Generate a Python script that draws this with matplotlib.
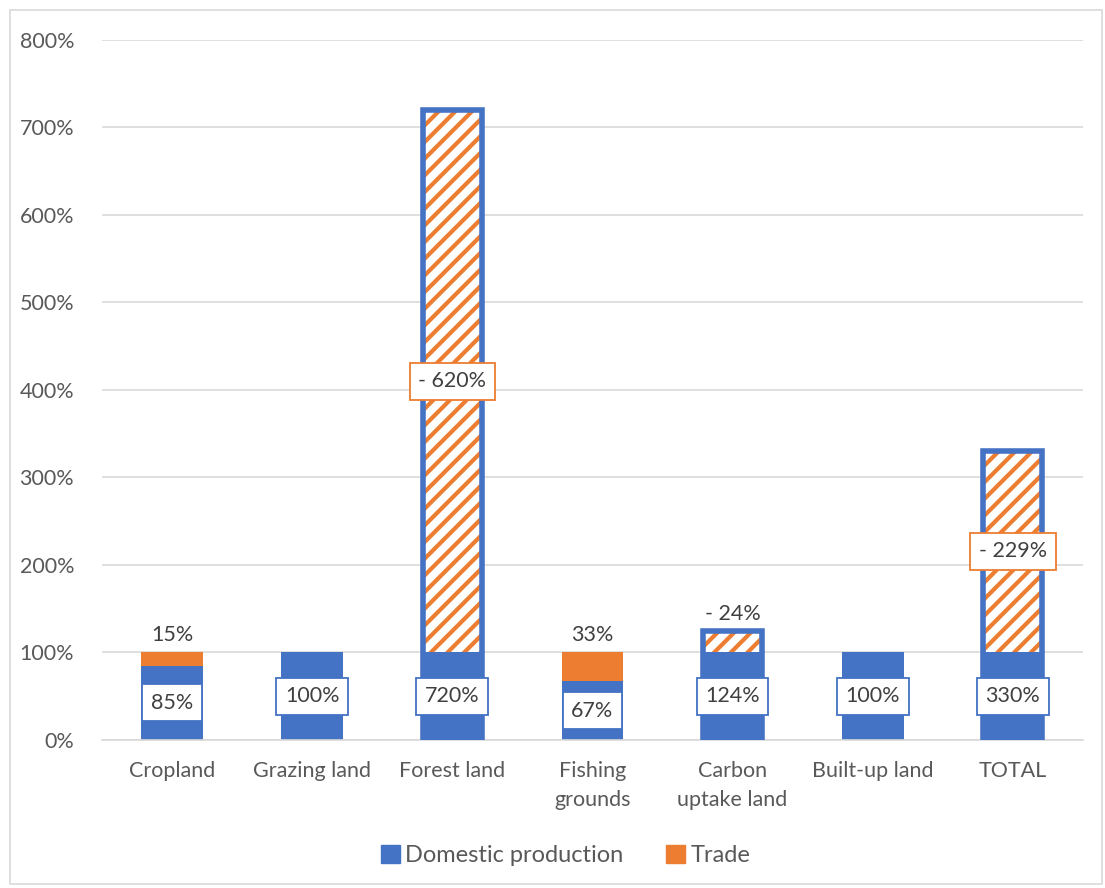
import matplotlib.pyplot as plt
from matplotlib.patches import Rectangle, Patch
import numpy as np

categories = ["Cropland", "Grazing land", "Forest land", "Fishing\ngrounds",
              "Carbon\nuptake land", "Built-up land", "TOTAL"]
domestic = [85, 100, 720, 67, 124, 100, 330]
trade = [15, 0, -620, 33, -24, 0, -229]

blue = "#4472C4"
orange = "#ED7D31"
txt = "#595959"
lab_c = "#404040"
fs = 15.5
plt.rcParams["font.family"] = ["Lato", "DejaVu Sans"]
plt.rcParams["hatch.linewidth"] = 3.0

fig = plt.figure(figsize=(11.05, 8.88), dpi=100)
ax = fig.add_axes([0.0923, 0.1667, 0.8877, 0.7883])
fig.patches.append(Rectangle((0.009, 0.005), 0.988, 0.984, transform=fig.transFigure,
                             fill=False, edgecolor="#d9d9d9", lw=1.2))

x = np.arange(len(categories))
w = 0.44

for i, (d, t) in enumerate(zip(domestic, trade)):
    ax.bar(x[i], d, w, color=blue, zorder=2)
    if t > 0:
        ax.bar(x[i], t, w, bottom=d, color=orange, zorder=2)
        ax.text(x[i], d + t + 8, f"{t}%", ha="center", va="bottom", fontsize=fs, color=lab_c)
    elif t < 0:
        lo = d + t
        ax.bar(x[i], -t, w - 0.04, bottom=lo, facecolor="white", edgecolor=orange, hatch="//",
               lw=0, zorder=3)
        ax.bar(x[i], d, w - 0.02, facecolor="none", edgecolor=blue, lw=4, zorder=4)
        lab = f"- {-t}%"
        if -t > 100:
            ax.text(x[i], lo + (-t) / 2, lab, ha="center", va="center", fontsize=fs, color=lab_c,
                    zorder=6, bbox=dict(boxstyle="square,pad=0.4", fc="white", ec=orange, lw=1.3))
        else:
            ax.text(x[i], d + 8, lab, ha="center", va="bottom", fontsize=fs, color=lab_c)
    ax.text(x[i], min(d, 100) / 2, f"{d}%", ha="center", va="center",
            fontsize=fs, color=lab_c, zorder=6,
            bbox=dict(boxstyle="square,pad=0.4", fc="white", ec=blue, lw=1.3))

ax.set_xlim(-0.5, len(categories) - 0.5)
ax.set_ylim(0, 800)
ax.set_yticks(range(0, 801, 100))
ax.set_yticklabels([f"{v}%" for v in range(0, 801, 100)])
ax.set_xticks(x)
ax.set_xticklabels(categories, linespacing=1.55)
ax.tick_params(axis="both", length=0, labelsize=fs, labelcolor=txt)
ax.tick_params(axis="y", pad=20)
ax.tick_params(axis="x", pad=15)
ax.grid(axis="y", color="#d9d9d9", lw=1.2, zorder=0)
ax.set_axisbelow(True)
for s in ["top", "right", "left"]:
    ax.spines[s].set_visible(False)
ax.spines["bottom"].set_color("#d9d9d9")
ax.spines["bottom"].set_linewidth(1.2)

handles = [Patch(color=blue, label="Domestic production"), Patch(color=orange, label="Trade")]
fig.legend(handles=handles, loc="center", bbox_to_anchor=(0.512, 0.037), ncol=2, frameon=False,
           fontsize=17, labelcolor=txt, handlelength=0.8, handleheight=0.8, handletextpad=0.25,
           columnspacing=1.8)

fig.savefig("out.png", dpi=100)
